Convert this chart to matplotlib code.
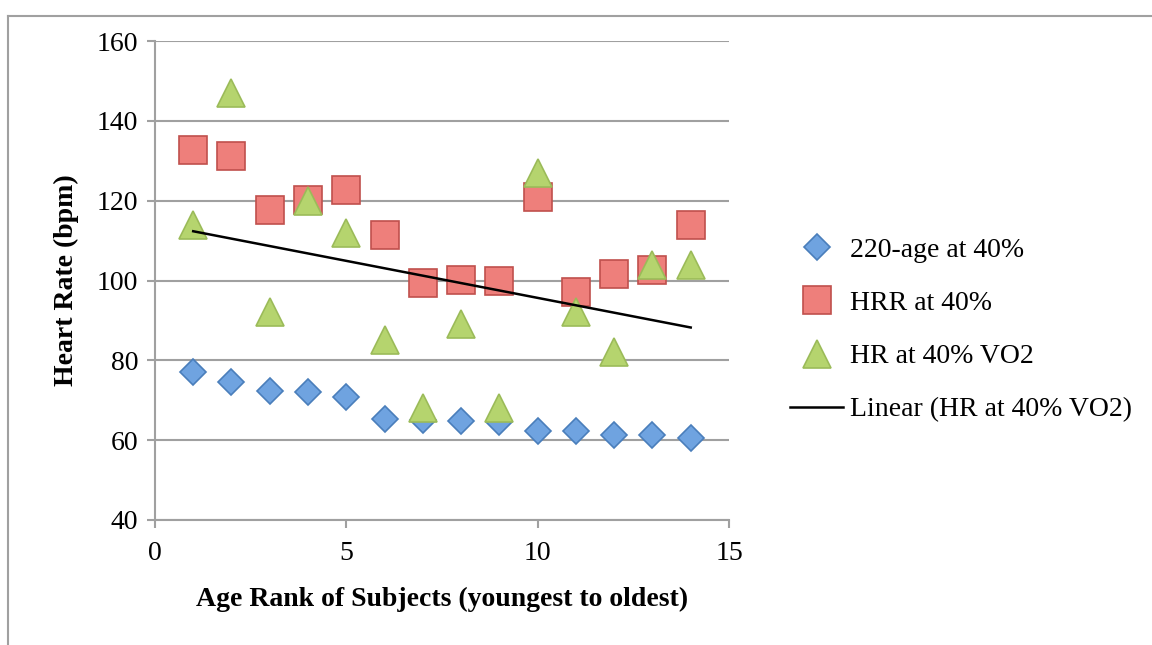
import numpy as np
import matplotlib.pyplot as plt
from matplotlib.lines import Line2D

# Data
rank = [1, 2, 3, 4, 5, 6, 7, 8, 9, 10, 11, 12, 13, 14]
age_pred_40 = [77.0, 74.5, 72.3, 72.0, 70.9, 65.2, 65.0, 64.8, 64.5, 62.4, 62.4, 61.4, 61.3, 60.6]
hrr_40 = [132.7, 131.3, 117.6, 120.2, 122.7, 111.5, 99.5, 100.2, 100.0, 121.0, 97.0, 101.6, 102.6, 113.8]
hr_vo2_40 = [114, 147, 92, 120, 112, 85, 68, 89, 68, 127, 92, 82, 104, 104]

plt.rcParams['font.family'] = ['Liberation Serif', 'DejaVu Serif']

fig = plt.figure(figsize=(11.52, 6.45), dpi=100)
ax = fig.add_axes([0.1345, 0.1938, 0.4983, 0.7426])

ax.plot(rank, age_pred_40, linestyle='none', marker='D', markersize=13.5,
        markerfacecolor='#6fa3e0', markeredgecolor='#4a7ebb', markeredgewidth=1.2,
        label='220-age at 40%', zorder=3)
ax.plot(rank, hrr_40, linestyle='none', marker='s', markersize=19.5,
        markerfacecolor='#ee7f7b', markeredgecolor='#c0504d', markeredgewidth=1.2,
        label='HRR at 40%', zorder=3)
ax.plot(rank, hr_vo2_40, linestyle='none', marker='^', markersize=20,
        markerfacecolor='#b5d46e', markeredgecolor='#9bbb59', markeredgewidth=1.2,
        label='HR at 40% VO2', zorder=4)

# linear trendline for HR at 40% VO2
slope, icpt = np.polyfit(rank, hr_vo2_40, 1)
xs = np.array([rank[0], rank[-1]])
ax.plot(xs, slope * xs + icpt, color='black', linewidth=1.8,
        label='Linear (HR at 40% VO2)', zorder=5)

ax.set_xlim(0, 15)
ax.set_ylim(40, 160)
ax.set_xticks([0, 5, 10, 15])
ax.set_yticks(range(40, 161, 20))
ax.grid(axis='y', color='#a0a0a0', linewidth=1.5)
ax.set_axisbelow(True)
for s in ['top', 'right']:
    ax.spines[s].set_visible(False)
for s in ['left', 'bottom']:
    ax.spines[s].set_color('#a0a0a0')
    ax.spines[s].set_linewidth(1.5)
ax.tick_params(axis='both', colors='#a0a0a0', width=1.5, length=6,
               labelsize=20, labelcolor='black')
ax.tick_params(axis='x', pad=9)
ax.tick_params(axis='y', pad=6)

ax.set_xlabel('Age Rank of Subjects (youngest to oldest)', fontsize=20,
              fontweight='bold', labelpad=15)
ax.set_ylabel('Heart Rate (bpm)', fontsize=20, fontweight='bold', labelpad=13)

ax.legend(loc='upper left', bbox_to_anchor=(0.686, 0.632), bbox_transform=fig.transFigure,
          frameon=False, fontsize=20, handlelength=1.9, handletextpad=0.25,
          labelspacing=1.0, borderpad=0, borderaxespad=0)

# outer chart frame (clipped by the page)
fig.add_artist(Line2D([8 / 1152, 1.0], [1 - 16 / 645, 1 - 16 / 645],
                      transform=fig.transFigure, color='#a0a0a0', linewidth=1.5))
fig.add_artist(Line2D([8 / 1152, 8 / 1152], [0.0, 1 - 16 / 645],
                      transform=fig.transFigure, color='#a0a0a0', linewidth=1.5))

fig.savefig('out.png', dpi=100)
